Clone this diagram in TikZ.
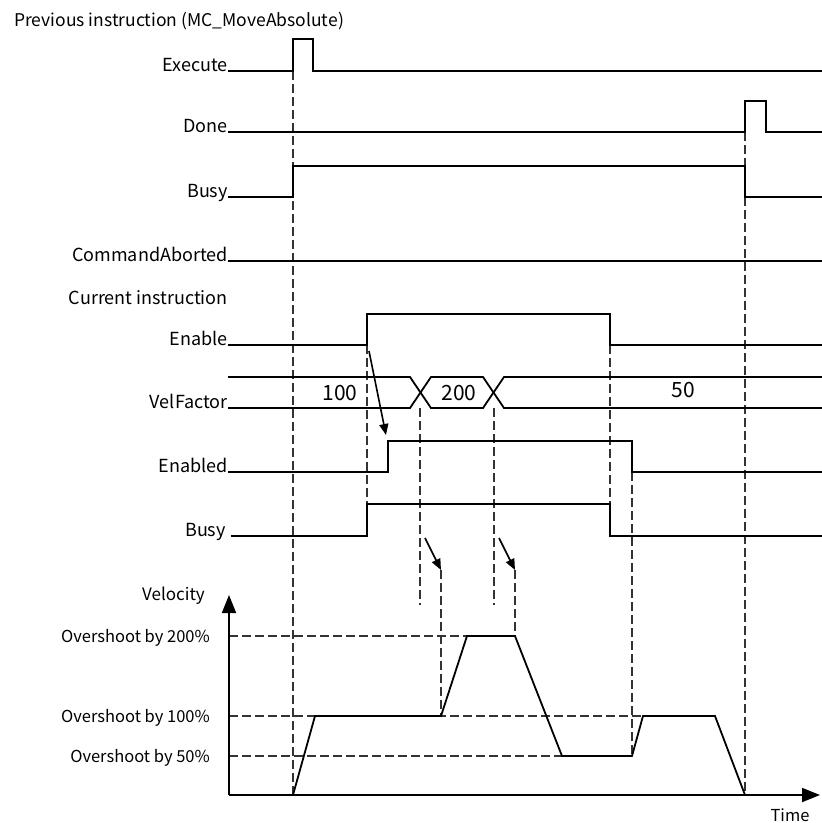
\documentclass[tikz,border=0pt]{standalone}
\usepackage{fontspec}
\setmainfont{Noto Sans CJK SC}
\usetikzlibrary{arrows.meta}
\begin{document}
\begin{tikzpicture}[x=1pt,y=-1pt,
  sig/.style={line width=1.8pt},
  guide/.style={dash pattern=on 9pt off 4pt, line width=1.4pt, black!80},
  lbl/.style={anchor=base east, inner sep=0pt, font=\fontsize{18}{21}\selectfont},
  txt/.style={inner sep=0pt, font=\fontsize{16.5}{19}\selectfont},
  val/.style={inner sep=0pt, font=\fontsize{21}{24}\selectfont},
  tip/.style={-{Triangle[length=11pt,width=9pt]}, line width=1.6pt},
  axis/.style={line width=1.8pt, -{Triangle[length=18pt,width=14pt]}}]
  \useasboundingbox (0,0) rectangle (822,823);
  \draw[guide] (293,71) -- (293,795);
  \draw[guide] (367,345) -- (367,504);
  \draw[guide] (420,408) -- (420,605);
  \draw[guide] (441,570) -- (441,716);
  \draw[guide] (494,408) -- (494,605);
  \draw[guide] (515,570) -- (515,636);
  \draw[guide] (610,345) -- (610,536);
  \draw[guide] (632,472) -- (632,756);
  \draw[guide] (745,132) -- (745,795);
  \node[txt, anchor=base west, font=\fontsize{17.5}{21}\selectfont] (prev) at (14,26) {Previous instruction (MC\_MoveAbsolute)};
  \node[lbl] (execute) at (228,71) {Execute};
  \draw[sig] (execute.base east) -- (293,71) |- (313,39) |- (822,71);
  \node[lbl] (done) at (228,132) {Done};
  \draw[sig] (done.base east) -- (745,132) |- (766,101) |- (822,132);
  \node[lbl] (busyA) at (228,197) {Busy};
  \draw[sig] (busyA.base east) -- (293,197) |- (745,166) |- (822,197);
  \node[lbl] (aborted) at (228,261) {CommandAborted};
  \draw[sig] (aborted.base east) -- (822,261);
  \node[lbl] (current) at (228,304) {Current instruction};
  \node[lbl] (enable) at (228,345) {Enable};
  \draw[sig] (enable.base east) -- (367,345) |- (610,314) |- (822,345);
  \node[lbl] (velfactor) at (228,408) {VelFactor};
  \draw[sig] (velfactor.base east) -- (410,408) -- (431,377) -- (483,377) -- (504,408) -- (822,408);
  \draw[sig] (velfactor.base east) ++(0,-31) -- (410,377) -- (431,408) -- (483,408) -- (504,377) -- (822,377);
  \node[val] (v100) at (340,393) {100};
  \node[val] (v200) at (459,393) {200};
  \node[val] (v50) at (683,390) {50};
  \node[lbl] (enabled) at (228,472) {Enabled};
  \draw[sig] (enabled.base east) -- (388,472) |- (632,441) |- (822,472);
  \node[lbl] (busyB) at (226,536) {Busy};
  \draw[sig] (busyB.base east) ++(5,0) -- (367,536) |- (610,504) |- (822,536);
  \draw[tip] (369,351) -- (386,435);
  \draw[tip] (425,538) -- (441,570);
  \draw[tip] (499,538) -- (515,570);
  \coordinate (origin) at (229,795);
  \coordinate (vtop) at (229,595);
  \coordinate (tend) at (820,795);
  \draw[guide] (origin |- 0,636) -- (467,636);
  \draw[guide] (origin |- 0,716) -- (643,716);
  \draw[guide] (origin |- 0,756) -- (562,756);
  \draw[axis] (origin) -- (vtop);
  \draw[axis] (origin) -- (tend);
  \node[txt, anchor=base east, font=\fontsize{17}{20}\selectfont] (velocity) at (205,600) {Velocity};
  \node[txt, anchor=base east] (os200) at (210,642) {Overshoot by 200\%};
  \node[txt, anchor=base east] (os100) at (210,722) {Overshoot by 100\%};
  \node[txt, anchor=base east] (os50) at (210,762) {Overshoot by 50\%};
  \node[txt] (time) at (790,815) {Time};
  \draw[sig] (293,795) -- (315,716) -- (441,716) -- (467,636) -- (515,636) -- (562,756) -- (632,756) -- (643,716) -- (715,716) -- (745,795);
\end{tikzpicture}
\end{document}
